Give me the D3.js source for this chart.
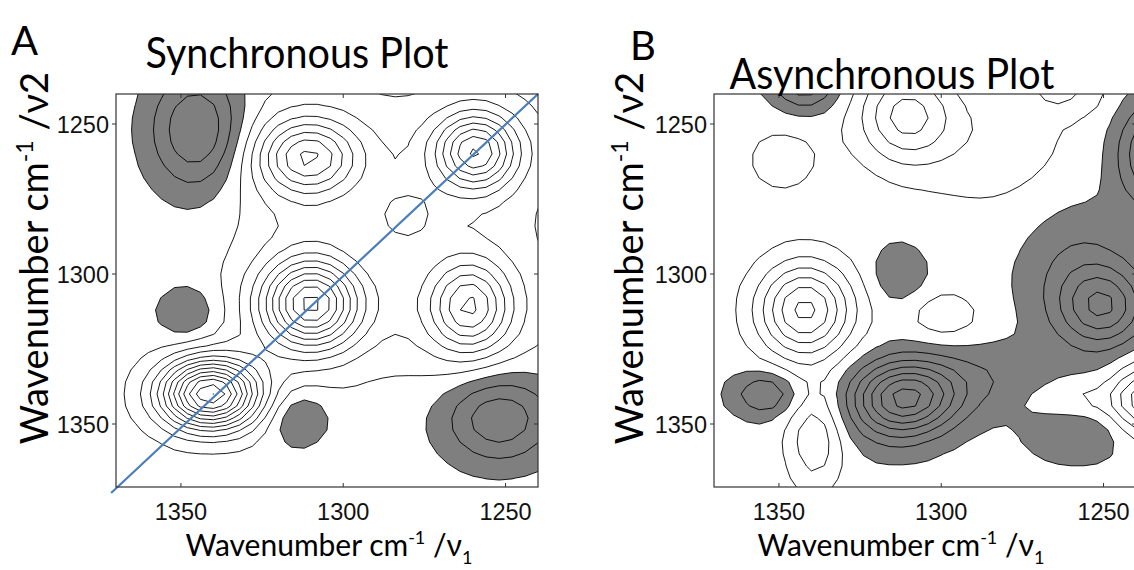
<!DOCTYPE html>
<html>
<head>
<meta charset="utf-8">
<script src="https://cdn.jsdelivr.net/npm/d3@7/dist/d3.min.js"></script>
<style>
  body { margin: 0; background: #fff; }
  .title { font-family: Lato, "Open Sans", sans-serif; fill: #000; }
  .tick-label { font-family: "Liberation Sans", Arial, sans-serif; font-size: 23.5px; fill: #111; }
</style>
</head>
<body>
<svg id="chart" width="1134" height="570"></svg>
<script>
// wavenumber grid the maps are sampled on (cm-1)
const gridStart = 1228, gridEnd = 1384, gridStep = 4;
const axisTicks = [1250, 1300, 1350];

// synchronous map: peaks (nu1, nu2, height in contour steps, widths)
const syncBase  = 0.5;
const syncNu1   = [1341, 1310, 1259, 1281, 1311, 1261, 1345, 1252, 1348, 1314, 1263, 1310, 1263, 1310];
const syncNu2   = [1340, 1310, 1259, 1281, 1261, 1311, 1252, 1348, 1313, 1348, 1263, 1263, 1310, 1310];
const syncAmp   = [11.5, 7.5,  6.3,  2.2,  4.5,  4.5,  -3.7, -3.4, -1.6, -1.8, 1.5,  2.3,  2.3,  2.3];
const syncWide1 = [10.5, 10,   8.5,  7,    10,   8,    10,   12,   6.5,  6.5,  16,   16,   16,   16];
const syncWide2 = [8,    10,   8.5,  7,    8,    10,   14,   10.5, 6.5,  6.5,  16,   16,   16,   16];
const syncLevels = [-3, -2, -1, 0, 1, 2, 3, 4, 5, 6, 7, 8, 9, 10, 11, 12];

// asynchronous map
const asyncBase  = 0.35;
const asyncNu1   = [1342, 1311, 1311, 1250, 1342, 1238, 1236, 1262, 1313, 1299, 1354, 1339, 1349, 1258, 1258, 1255, 1285, 1290, 1315];
const asyncNu2   = [1312, 1341, 1247, 1311, 1237, 1342, 1260, 1240, 1300, 1314, 1340, 1355, 1262, 1353, 1300, 1342, 1255, 1335, 1350];
const asyncAmp   = [6.0,  -6.0, 3.8,  -3.8, -3.0, 4.0,  -3.5, 1.5,  -1.3, 1.4,  -2.5, 2.5,  1.0,  -1.2, -1.5, 1.2,  1.3,  -1.2, -1.0];
const asyncWide1 = [10,   11,   10,   9,    7,    6,    7,    9,    6,    8,    7,    6,    10,   11,   12,   12,   18,   18,   10];
const asyncWide2 = [11,   8,    11,   9,    6,    8,    12,   5,    7,    6,    5,    12,   10,   7,    16,   4.5,  17,   8,    8];
const asyncLevels = [-6, -5, -4, -3, -2, -1, 0, 1, 2, 3, 4, 5, 6];

const gridNu = d3.range(gridStart, gridEnd + 0.5, gridStep);
const n = gridNu.length;

function buildMap(base, nu1, nu2, amp, w1, w2) {
  const values = new Array(n * n);
  for (let j = 0; j < n; j++) {
    for (let i = 0; i < n; i++) {
      let v = base;
      for (let k = 0; k < amp.length; k++) {
        const dx = (gridNu[i] - nu1[k]) / w1[k];
        const dy = (gridNu[j] - nu2[k]) / w2[k];
        v += amp[k] * Math.exp(-0.5 * (dx * dx + dy * dy));
      }
      values[j * n + i] = v;
    }
  }
  return values;
}

const svg = d3.select('#chart');

function drawPanel(opts) {
  const x = d3.scaleLinear().domain([1370, 1240]).range([opts.left, opts.right]);
  const y = d3.scaleLinear().domain([1240, 1371]).range([94, 487]);
  const values = buildMap(opts.base, opts.nu1, opts.nu2, opts.amp, opts.w1, opts.w2);

  // d3.contours puts sample i at i + 0.5 in grid units
  const proj = d3.geoTransform({
    point: function(px, py) {
      this.stream.point(x(gridStart + (px - 0.5) * gridStep), y(gridStart + (py - 0.5) * gridStep));
    }
  });
  const path = d3.geoPath(proj);

  svg.append('clipPath').attr('id', opts.id + '-clip')
    .append('rect')
    .attr('x', x(1370)).attr('y', y(1240))
    .attr('width', x(1240) - x(1370)).attr('height', y(1371) - y(1240));

  const g = svg.append('g').attr('clip-path', `url(#${opts.id}-clip)`);

  // negative regions in grey
  const neg = d3.contours().size([n, n]).thresholds([0])(values.map(v => -v));
  g.selectAll('path.neg').data(neg).enter().append('path')
    .attr('class', 'neg')
    .attr('d', path)
    .attr('fill', '#7f7f7f');

  const lines = d3.contours().size([n, n]).thresholds(opts.levels)(values);
  g.selectAll('path.line').data(lines).enter().append('path')
    .attr('class', 'line')
    .attr('d', path)
    .attr('fill', 'none')
    .attr('stroke', '#000')
    .attr('stroke-width', 0.9);

  if (opts.diagonal) {
    svg.append('line')
      .attr('x1', x(1371.5)).attr('y1', y(1373))
      .attr('x2', x(1240)).attr('y2', y(1240))
      .attr('stroke', '#4a7ebb')
      .attr('stroke-width', 2.2);
  }

  // frame
  svg.append('rect')
    .attr('x', x(1370)).attr('y', y(1240))
    .attr('width', x(1240) - x(1370)).attr('height', y(1371) - y(1240))
    .attr('fill', 'none').attr('stroke', '#333').attr('stroke-width', 1.2);

  // ticks
  const ax = svg.append('g');
  axisTicks.forEach(t => {
    ax.append('line').attr('x1', x(t)).attr('x2', x(t)).attr('y1', 487).attr('y2', 483)
      .attr('stroke', '#333');
    ax.append('line').attr('x1', x(t)).attr('x2', x(t)).attr('y1', 94).attr('y2', 98)
      .attr('stroke', '#333');
    ax.append('line').attr('x1', x(1370)).attr('x2', x(1370) - 4).attr('y1', y(t)).attr('y2', y(t))
      .attr('stroke', '#333');
    ax.append('line').attr('x1', x(1240)).attr('x2', x(1240) - 4).attr('y1', y(t)).attr('y2', y(t))
      .attr('stroke', '#333');
    ax.append('text').attr('class', 'tick-label')
      .attr('x', x(t)).attr('y', 520).attr('text-anchor', 'middle').text(t);
    ax.append('text').attr('class', 'tick-label')
      .attr('x', x(1370) - 7).attr('y', y(t) + 8.5).attr('text-anchor', 'end').text(t);
  });

  // titles
  svg.append('text').attr('class', 'title')
    .attr('x', opts.letterX).attr('y', opts.letterY)
    .style('font-size', '40px').text(opts.letter);
  svg.append('text').attr('class', 'title')
    .attr('x', opts.titleX).attr('y', opts.titleY)
    .attr('text-anchor', 'middle')
    .attr('textLength', opts.titleWidth).attr('lengthAdjust', 'spacingAndGlyphs')
    .style('font-size', '43px').text(opts.title);

  const xl = svg.append('text').attr('class', 'title')
    .attr('x', opts.xLabelX).attr('y', 556)
    .attr('text-anchor', 'middle').style('font-size', '30px');
  xl.append('tspan').text('Wavenumber cm');
  xl.append('tspan').attr('dy', -12).style('font-size', '18px').text('-1');
  xl.append('tspan').attr('dy', 12).text(' /ν');
  xl.append('tspan').attr('dy', 8).style('font-size', '18px').text('1');

  const yl = svg.append('text').attr('class', 'title')
    .attr('transform', `translate(${opts.yLabelX},258) rotate(-90)`)
    .attr('text-anchor', 'middle').style('font-size', '38px');
  yl.append('tspan').text('Wavenumber cm');
  yl.append('tspan').attr('dy', -15).style('font-size', '23px').text('-1');
  yl.append('tspan').attr('dy', 15).text(' /ν2');
}

drawPanel({
  id: 'sync', left: 116, right: 538,
  base: syncBase, nu1: syncNu1, nu2: syncNu2, amp: syncAmp, w1: syncWide1, w2: syncWide2,
  levels: syncLevels, diagonal: true,
  letter: 'A', letterX: 11, letterY: 55,
  title: 'Synchronous Plot', titleX: 297, titleY: 68, titleWidth: 303,
  xLabelX: 329, yLabelX: 48
});

drawPanel({
  id: 'async', left: 714, right: 1136,
  base: asyncBase, nu1: asyncNu1, nu2: asyncNu2, amp: asyncAmp, w1: asyncWide1, w2: asyncWide2,
  levels: asyncLevels, diagonal: false,
  letter: 'B', letterX: 630, letterY: 60,
  title: 'Asynchronous Plot', titleX: 892, titleY: 89, titleWidth: 325,
  xLabelX: 901, yLabelX: 643
});
</script>
</body>
</html>
